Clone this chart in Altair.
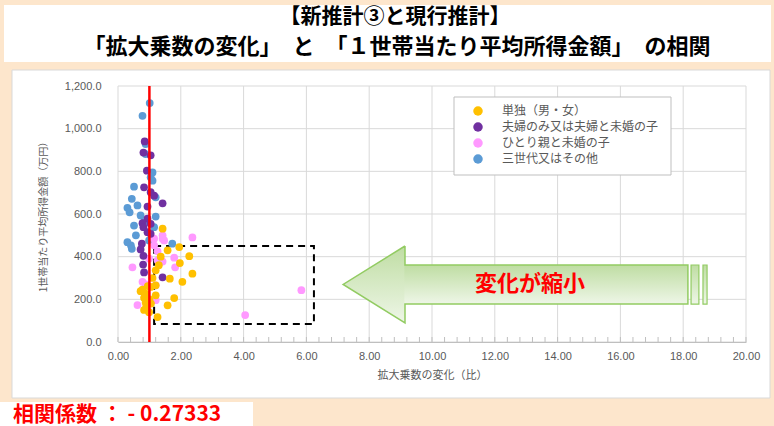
import altair as alt
import pandas as pd

# ---------------- data ----------------
categories = ["単独（男・女）", "夫婦のみ又は夫婦と未婚の子", "ひとり親と未婚の子", "三世代又はその他"]
palette = ["#FFC000", "#7030A0", "#FF99FF", "#5B9BD5"]

# 拡大乗数の変化（比） / 1世帯当たり平均所得金額（万円）
single_x = [1.42, 1.95, 1.58, 1.36, 2.27, 1.97, 1.20, 2.37, 1.65, 2.05, 1.20, 1.79, 1.58, 1.26,
            1.10, 1.04, 0.72, 0.88, 1.20, 0.83, 0.88, 0.83, 0.99, 1.30, 0.95, 0.78, 1.00, 1.05, 0.90]
single_y = [531, 445, 430, 400, 402, 370, 336, 320, 297, 282, 266, 206, 172, 117,
            300, 258, 238, 227, 219, 207, 185, 150, 140, 360, 262, 245, 200, 180, 165]

couple_x = [0.85, 0.81, 1.04, 0.92, 0.83, 1.04, 1.15, 1.42, 0.94, 0.94, 0.78, 1.04, 0.81, 0.94,
            1.04, 0.76, 0.72, 0.81, 0.80, 0.83, 1.42]
couple_y = [940, 888, 875, 803, 725, 702, 686, 650, 635, 578, 557, 554, 538, 515,
            507, 461, 434, 404, 363, 326, 303]

single_parent_x = [1.42, 1.42, 2.37, 1.15, 1.47, 1.26, 1.79, 1.42, 1.82, 1.20, 1.20, 0.62, 0.46,
                   0.78, 0.88, 0.99, 5.84, 4.05, 1.15, 1.26]
single_parent_y = [500, 484, 490, 484, 476, 425, 395, 377, 350, 266, 196, 173, 350,
                   282, 270, 391, 243, 126, 453, 383]

three_gen_x = [1.01, 0.78, 0.88, 0.88, 1.04, 1.10, 0.51, 1.20, 0.44, 0.62, 0.30, 0.37, 0.72, 1.20,
               0.83, 0.51, 1.15, 0.57, 0.30, 0.41, 0.99, 1.73, 0.44, 1.10]
three_gen_y = [1120, 1060, 928, 881, 772, 756, 728, 678, 671, 640, 629, 608, 593, 588,
               562, 546, 538, 500, 468, 453, 476, 461, 437, 795]

# axis ticks
x_ticks = [0, 2, 4, 6, 8, 10, 12, 14, 16, 18, 20]
y_ticks = [0, 200, 400, 600, 800, 1000, 1200]
x_minor = [round(i * 0.4, 1) for i in range(51)]

# reference line (拡大乗数 = 1)
ref_x = [1.0]

# highlighted region
box_x, box_x2, box_y, box_y2 = [1.15], [6.24], [84], [450]

# arrow shape (head + body + end bars)
head_x = [7.17, 9.14]
head_ylo = [270, 90]
head_yhi = [270, 450]
body_x, body_x2, body_y, body_y2 = [9.12], [18.15], [178], [361]
bars_x = [18.25, 18.63]
bars_x2 = [18.50, 18.76]
outline_x = [9.14, 7.17, 9.14, 9.14, 18.15, 18.15, 9.14, 9.14]
outline_y = [450, 270, 90, 178, 178, 361, 361, 450]
arrow_label = "変化が縮小"
arrow_label_x, arrow_label_y = [13.12], [273]

title_line1 = "【新推計③と現行推計】"
title_line2 = "「拡大乗数の変化」　と　「１世帯当たり平均所得金額」　の相関"
corr_text = "相関係数 ： - 0.27333"

# ---------------- tables ----------------
pts = pd.concat([
    pd.DataFrame({"x": single_x, "y": single_y, "type": categories[0], "o": 3}),
    pd.DataFrame({"x": couple_x, "y": couple_y, "type": categories[1], "o": 2}),
    pd.DataFrame({"x": single_parent_x, "y": single_parent_y, "type": categories[2], "o": 1}),
    pd.DataFrame({"x": three_gen_x, "y": three_gen_y, "type": categories[3], "o": 0}),
], ignore_index=True)

one = pd.DataFrame({"k": [0]})

W, H = 628, 256
xs = alt.Scale(domain=[0, 20], nice=False, zero=False)
ys = alt.Scale(domain=[0, 1200], nice=False)

JP = "Noto Sans CJK JP"
GREY = "#595959"

# white panels drawn in pixel space around the plot
def panel(x, x2, y, y2, stroke=None):
    kw = dict(fill="white")
    if stroke:
        kw.update(stroke=stroke, strokeWidth=1)
    return alt.Chart(one).mark_rect(**kw).encode(
        x=alt.value(x), x2=alt.value(x2), y=alt.value(y), y2=alt.value(y2))

title_box = panel(-114, 653, -81, -24)
chart_box = panel(-106, 652, -16, 312, stroke="#D9D9D9")
corr_box = panel(-118, 135, 316, 340)

vgrid = alt.Chart(pd.DataFrame({"x": x_ticks})).mark_rule(color="#D9D9D9", strokeWidth=1).encode(
    x=alt.X("x:Q", scale=xs))
hgrid = alt.Chart(pd.DataFrame({"y": y_ticks})).mark_rule(color="#D9D9D9", strokeWidth=1).encode(
    y=alt.Y("y:Q", scale=ys))
minor = alt.Chart(pd.DataFrame({"x": x_minor})).mark_rule(color="#BFBFBF", strokeWidth=1).encode(
    x=alt.X("x:Q", scale=xs), y=alt.value(H - 5), y2=alt.value(H))

grad = alt.Gradient(
    gradient="linear",
    stops=[alt.GradientStop(color="#BFDDA3", offset=0), alt.GradientStop(color="#EEF6E7", offset=1)],
    x1=0, x2=0, y1=0, y2=1)

head = alt.Chart(pd.DataFrame({"x": head_x, "lo": head_ylo, "hi": head_yhi})).mark_area(
    color=grad).encode(x=alt.X("x:Q", scale=xs), y=alt.Y("lo:Q", scale=ys), y2="hi:Q")
body = alt.Chart(pd.DataFrame({"x": body_x, "x2": body_x2, "y": body_y, "y2": body_y2})).mark_rect(
    color=grad).encode(x=alt.X("x:Q", scale=xs), x2="x2:Q", y=alt.Y("y:Q", scale=ys), y2="y2:Q")
bars = alt.Chart(pd.DataFrame({"x": bars_x, "x2": bars_x2, "y": body_y * 2, "y2": body_y2 * 2})).mark_rect(
    color=grad, stroke="#92CB62", strokeWidth=1.2).encode(
    x=alt.X("x:Q", scale=xs), x2="x2:Q", y=alt.Y("y:Q", scale=ys), y2="y2:Q")
outline = alt.Chart(pd.DataFrame({"x": outline_x, "y": outline_y, "i": list(range(len(outline_x)))})).mark_line(
    color="#92CB62", strokeWidth=1.5).encode(
    x=alt.X("x:Q", scale=xs), y=alt.Y("y:Q", scale=ys), order="i:Q")
arrow_txt = alt.Chart(pd.DataFrame({"x": arrow_label_x, "y": arrow_label_y, "t": [arrow_label]})).mark_text(
    color="#FF0000", font=JP, fontSize=22, fontWeight="bold", align="center", baseline="middle").encode(
    x=alt.X("x:Q", scale=xs), y=alt.Y("y:Q", scale=ys), text="t:N")

dash_box = alt.Chart(pd.DataFrame({"x": box_x, "x2": box_x2, "y": box_y, "y2": box_y2})).mark_rect(
    fillOpacity=0, stroke="black", strokeWidth=2, strokeDash=[7, 5]).encode(
    x=alt.X("x:Q", scale=xs), x2="x2:Q", y=alt.Y("y:Q", scale=ys), y2="y2:Q")

legend_box = panel(336, 553, 11, 89, stroke="#BFBFBF")

points = alt.Chart(pts).mark_circle(size=60, opacity=1).encode(
    x=alt.X("x:Q", scale=xs,
            axis=alt.Axis(values=x_ticks, format=".2f", grid=False, ticks=False, domain=True,
                          domainColor="#BFBFBF", labelColor=GREY, labelFont="Liberation Sans",
                          labelFontSize=11, labelPadding=8, labelFlush=False,
                          title="拡大乗数の変化（比）",
                          titleFont=JP, titleFontSize=11, titleFontWeight="normal",
                          titleColor=GREY, titlePadding=8, zindex=1)),
    y=alt.Y("y:Q", scale=ys,
            axis=alt.Axis(values=y_ticks, format=",.1f", grid=False, ticks=False, domain=False,
                          labelColor=GREY, labelFont="Liberation Sans", labelFontSize=11,
                          labelPadding=17, labelFlush=False, title="1世帯当たり平均所得金額（万円）",
                          titleFont=JP, titleFontSize=10, titleFontWeight="normal",
                          titleColor=GREY, titleX=-75, titleY=H / 2, titleAngle=-90,
                          titleAlign="center", titleBaseline="middle", zindex=1)),
    color=alt.Color("type:N", scale=alt.Scale(domain=categories, range=palette),
                    legend=alt.Legend(title=None, orient="none", legendX=354, legendY=19,
                                      symbolType="circle", symbolSize=90, labelFont=JP,
                                      labelFontSize=12, labelColor=GREY, labelOffset=18,
                                      rowPadding=4, labelLimit=300, padding=0)),
    order=alt.Order("o:Q"),
)

red = alt.Chart(pd.DataFrame({"x": ref_x})).mark_rule(color="#FF0000", strokeWidth=2.5).encode(
    x=alt.X("x:Q", scale=xs))

def label(txt, x, y, size, color="black", align="center", weight="bold"):
    return alt.Chart(one).mark_text(font=JP, fontSize=size, fontWeight=weight, color=color,
                                    align=align, baseline="middle").encode(
        x=alt.value(x), y=alt.value(y), text=alt.value(txt))

t1 = label(title_line1, 277, -69, 21)
t2 = label(title_line2, 279, -39, 22)
corr = label(corr_text, -105, 329, 21, color="#FF0000", align="left")

chart = alt.layer(
    title_box, chart_box, corr_box, vgrid, hgrid, minor, dash_box,
    head, body, bars, outline, arrow_txt, legend_box, points, red, t1, t2, corr,
).properties(
    width=W, height=H, background="#FDE6CC",
    padding={"left": 118, "top": 86, "right": 28, "bottom": 84},
    autosize=alt.AutoSizeParams(type="none"),
).configure_view(stroke=None)

chart.save("out.html", embed_options={"renderer": "svg", "actions": False})
